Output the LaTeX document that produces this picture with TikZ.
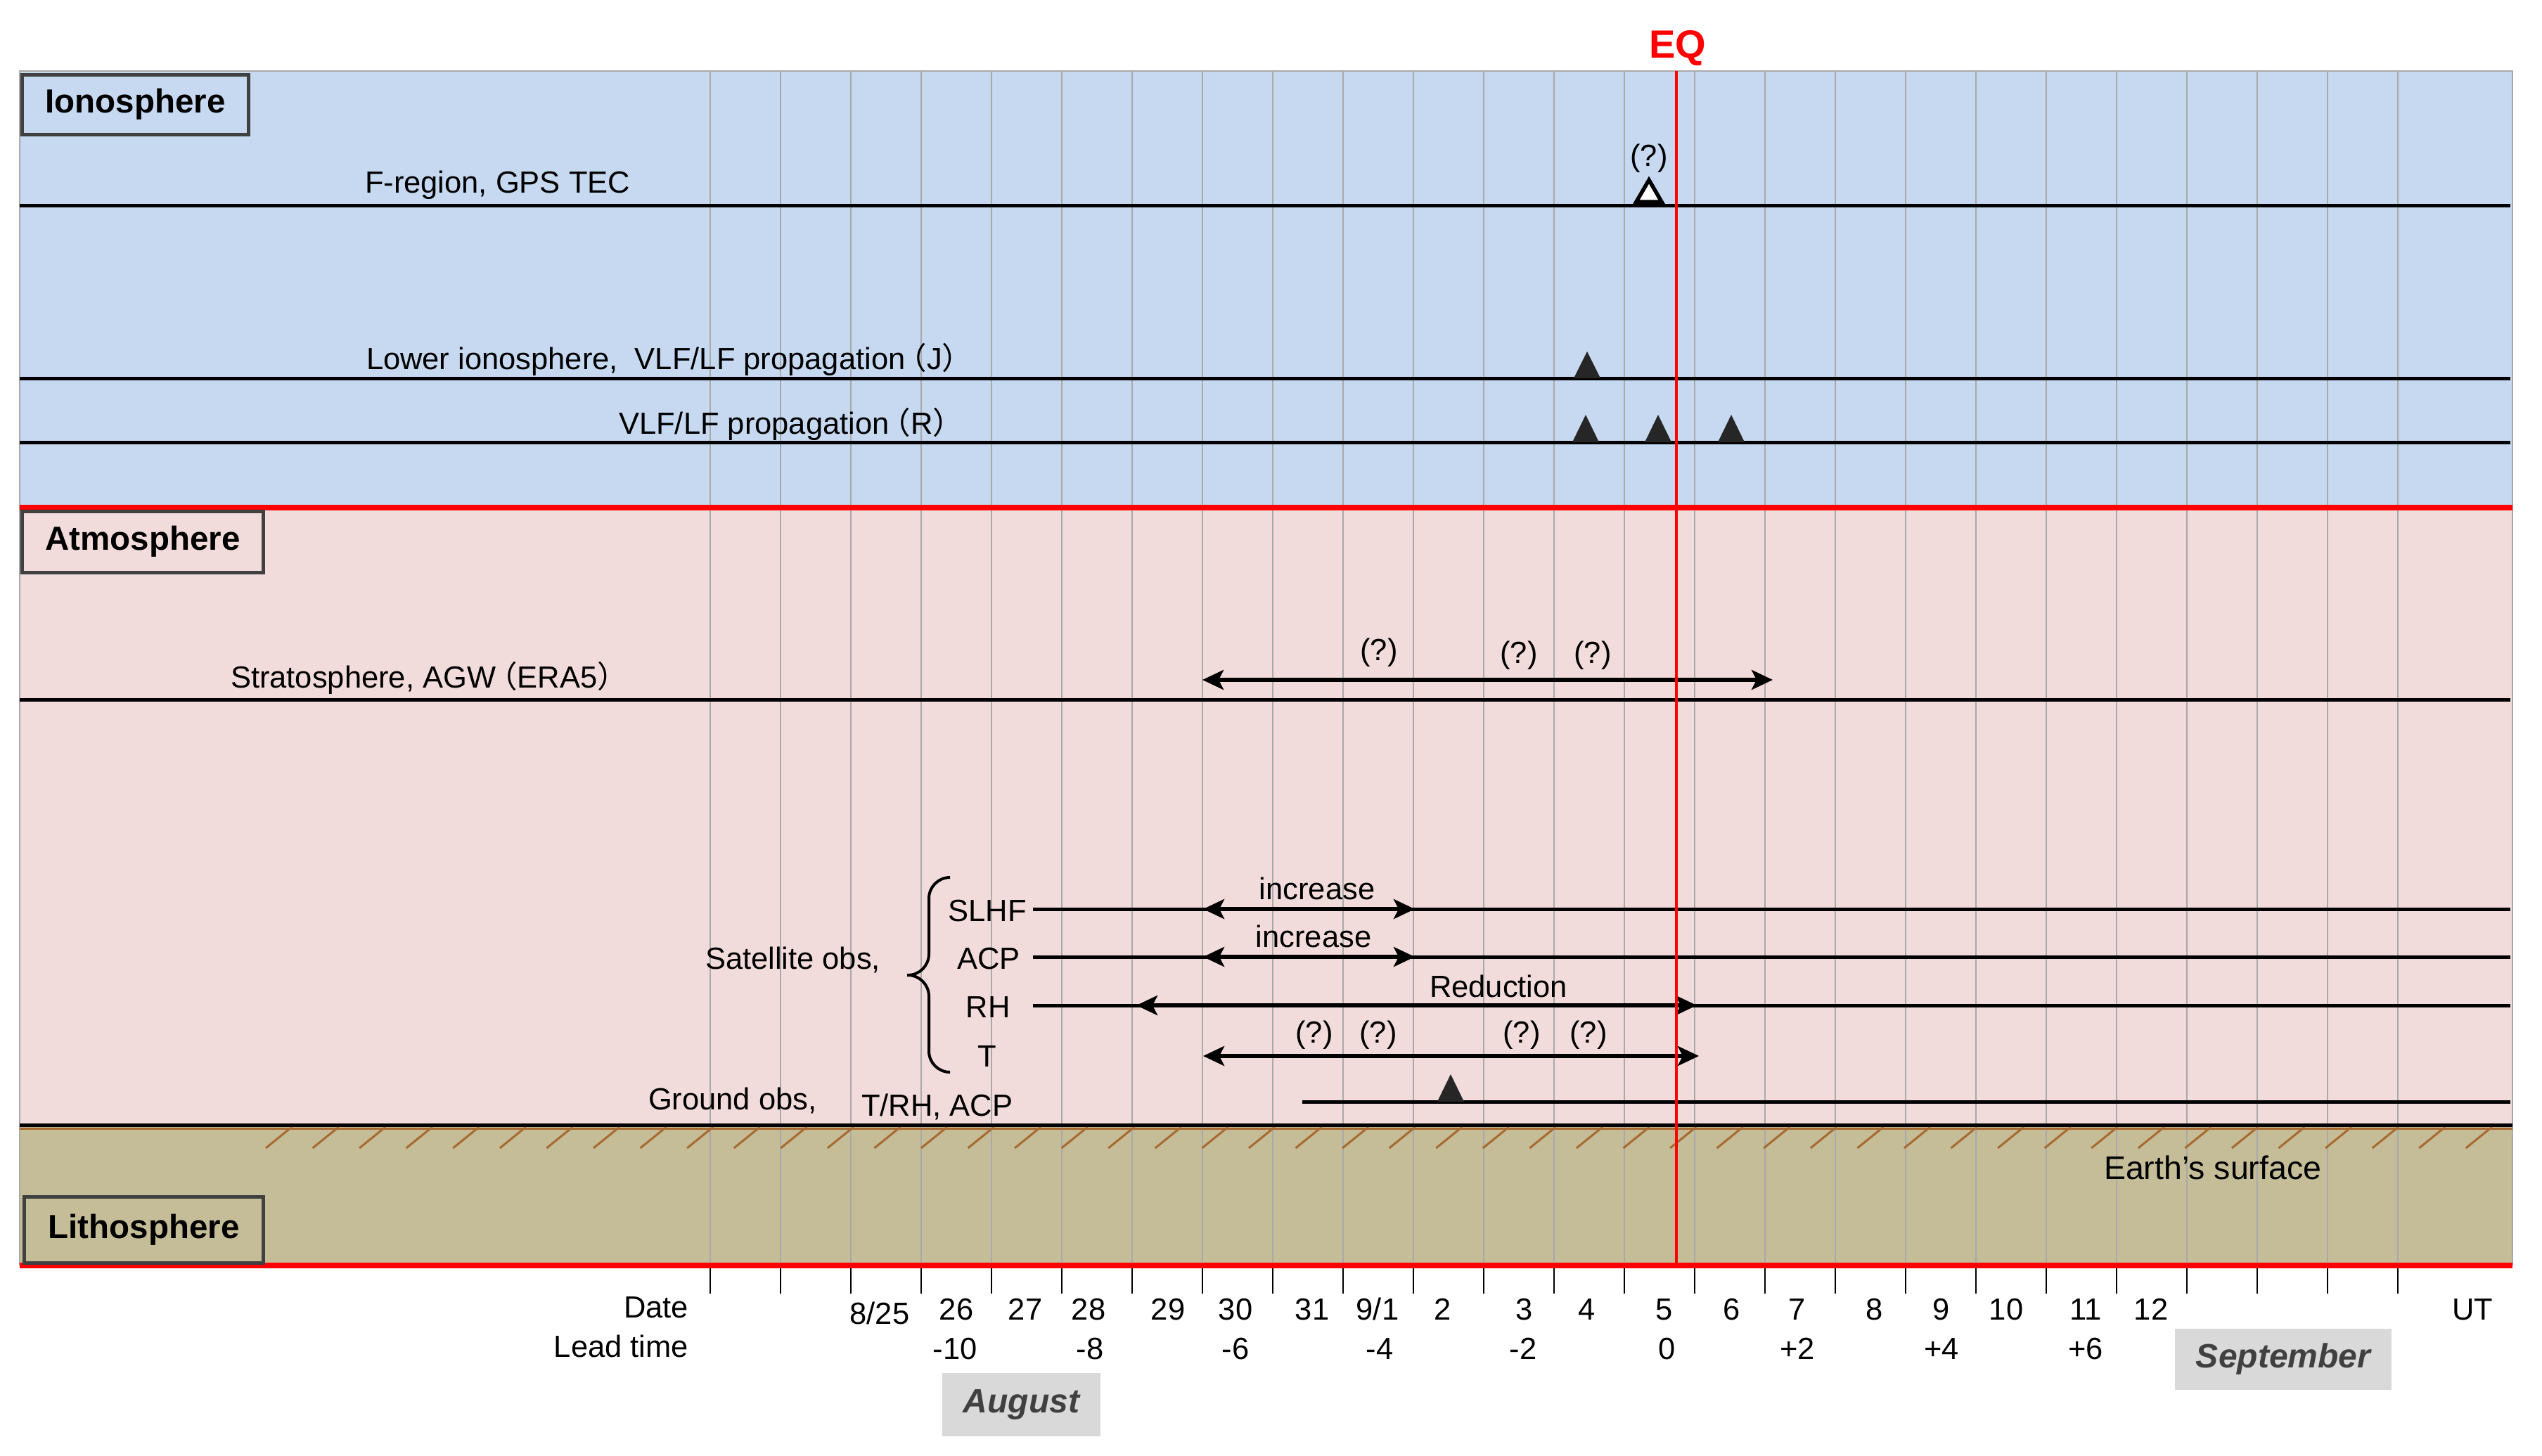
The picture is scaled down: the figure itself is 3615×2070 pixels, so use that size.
\documentclass[tikz,border=0pt]{standalone}
\usepackage{fontspec}
\setmainfont{Liberation Sans}
\newfontfamily\cjkfont{Noto Sans CJK JP}
\usetikzlibrary{arrows.meta}
\definecolor{ionoC}{HTML}{C6D9F1}
\definecolor{atmoC}{HTML}{F2DCDB}
\definecolor{lithoC}{HTML}{C4BD97}
\definecolor{gridC}{HTML}{A9A9A9}
\definecolor{hatchC}{HTML}{A86A30}
\definecolor{boxC}{HTML}{404040}
\definecolor{monthC}{HTML}{D9D9D9}
\definecolor{monthT}{HTML}{404040}
\definecolor{triC}{HTML}{262626}
\newcommand{\fwp}[1]{{\cjkfont\kern-0.3em（}#1{\cjkfont）\kern-0.3em}}
\begin{document}
\begin{tikzpicture}[x=0.2pt,y=-0.2pt,
 every node/.style={inner sep=0pt, outer sep=0pt},
 txt/.style={font=\fontsize{8.7}{10}\selectfont},
 boxlbl/.style={draw=boxC, line width=1pt, font=\bfseries\fontsize{9.5}{11}\selectfont},
 hline/.style={line width=1pt, black},
 redline/.style={line width=1.5pt, red},
 gridline/.style={line width=0.4pt, gridC},
 tickmark/.style={line width=0.5pt, black},
 dblarrow/.style={line width=1.1pt, {Stealth[length=6pt,width=5.6pt,inset=1.4pt]}-{Stealth[length=6pt,width=5.6pt,inset=1.4pt]}},
 peak/.style={fill=triC},
 hatchmark/.style={hatchC, line width=0.6pt},
 month/.style={fill=monthC, font=\bfseries\itshape\fontsize{9.6}{11}\selectfont, text=monthT}
]
\useasboundingbox (0,0) rectangle (3615,2070);
\fill[white] (0,0) rectangle (3615,2070);
% panels
\fill[ionoC] (28,101) rectangle (3573,722);
\fill[atmoC] (28,722) rectangle (3573,1600);
\fill[lithoC] (28,1600) rectangle (3573,1800);
\draw[gridC, line width=0.5pt] (28,1800) -- (28,101) -- (3573,101) -- (3573,1800);
% grid and ticks
\foreach \k in {0,...,24} {
  \draw[gridline] ({1010+100*\k},101) -- ({1010+100*\k},1800);
  \draw[tickmark] ({1010+100*\k},1800) -- ({1010+100*\k},1840);
}
% hatching
\foreach \i in {0,...,47}
  \draw[hatchmark] ({378+66.57*\i},1633) -- ({415+66.57*\i},1603);
\draw[hatchC, line width=0.6pt] (28,1605) -- (3573,1605);
\draw[line width=1pt] (28,1600) -- (3573,1600);
% horizontal lines
\draw[hline] (28,292) -- (3570,292);
\draw[hline] (28,538) -- (3570,538);
\draw[hline] (28,629) -- (3570,629);
\draw[hline] (28,995) -- (3570,995);
\draw[hline] (1469,1293) -- (3570,1293);
\draw[hline] (1469,1361) -- (3570,1361);
\draw[hline] (1469,1430) -- (3570,1430);
\draw[hline] (1852,1567) -- (3570,1567);
% peaks
\fill[peak] (2238,538) -- (2276,538) -- (2257,500) -- cycle;
\foreach \x in {2255,2358,2462}
  \fill[peak] ({\x-19},629) -- ({\x+19},629) -- (\x,590) -- cycle;
\fill[peak] (2044,1567) -- (2082,1567) -- (2063,1528) -- cycle;
\draw[line width=1.1pt, fill=white, line join=miter] (2327,287) -- (2363,287) -- (2345,256) -- cycle;
% arrows
\coordinate (s1) at (1710,967); \coordinate (s2) at (2521,967);
\coordinate (h1) at (1711,1293); \coordinate (h2) at (2012,1293);
\coordinate (a1) at (1711,1361); \coordinate (a2) at (2012,1361);
\coordinate (r1) at (1616,1430); \coordinate (r2) at (2413,1430);
\coordinate (t1) at (1711,1502); \coordinate (t2) at (2416,1502);
\draw[dblarrow] (s1) -- (s2);
\draw[dblarrow] (h1) -- (h2);
\draw[dblarrow] (a1) -- (a2);
\draw[dblarrow] (r1) -- (r2);
\draw[dblarrow] (t1) -- (t2);
% brace
\draw[line width=0.8pt, rounded corners=6pt] (1350,1248) -- (1321,1248) -- (1321,1387) -- (1290,1387);
\draw[line width=0.8pt, rounded corners=6pt] (1290,1387) -- (1321,1387) -- (1321,1525) -- (1350,1525);
% red lines
\draw[redline] (28,722) -- (3573,722);
\draw[redline] (28,1800) -- (3573,1800);
\draw[red, line width=0.9pt] (2384,101) -- (2384,1800);
% layer boxes
\node[boxlbl, fill=ionoC, minimum width=64.2pt, minimum height=17pt] (ionobox) at (192.5,148.5) {Ionosphere};
\node[boxlbl, fill=atmoC, minimum width=68.4pt, minimum height=17.4pt] (atmobox) at (203,770.5) {Atmosphere};
\node[boxlbl, fill=lithoC, minimum width=67.8pt, minimum height=18.8pt] (lithobox) at (204.5,1749) {Lithosphere};
% EQ
\node[font=\bfseries\fontsize{11.2}{13}\selectfont, text=red, anchor=base] (eq) at (2386,82) {EQ};
% ionosphere texts
\node[txt, anchor=base west] (fregion) at (519,274) {F-region, GPS TEC};
\node[txt, anchor=base] (q0) at (2345,236) {(?)};
\node[txt, anchor=base west] (lower) at (521,525) {Lower ionosphere,\ \ VLF/LF propagation\fwp{J}};
\node[txt, anchor=base east] (vlfr) at (1357,617) {VLF/LF propagation\fwp{R}};
% atmosphere texts
\node[txt, anchor=base west] (strat) at (328,978) {Stratosphere, AGW\fwp{ERA5}};
\node[txt, anchor=base] (qs1) at (1961,939) {(?)};
\node[txt, anchor=base] (qs2) at (2160,943) {(?)};
\node[txt, anchor=base] (qs3) at (2265,943) {(?)};
\node[txt, anchor=base west] (satobs) at (1003,1378) {Satellite obs,};
\node[txt, anchor=base] (slhf) at (1404,1310) {SLHF};
\node[txt, anchor=base] (acp) at (1406,1378) {ACP};
\node[txt, anchor=base] (rh) at (1405,1447) {RH};
\node[txt, anchor=base] (tt) at (1404,1517) {T};
\node[txt, anchor=base] (inc1) at (1873,1279) {increase};
\node[txt, anchor=base] (inc2) at (1868,1347) {increase};
\node[txt, anchor=base] (red) at (2131,1418) {Reduction};
\foreach \x in {1869,1960,2164,2259}
  \node[txt, anchor=base] (qt\x) at (\x,1483) {(?)};
\node[txt, anchor=base west] (ground) at (922,1578) {Ground obs,};
\node[txt, anchor=base west] (trh) at (1225,1587) {T/RH, ACP};
\node[font=\fontsize{9.3}{11}\selectfont, anchor=base west] (surface) at (2992,1677) {Earth’s surface};
% axis labels
\node[txt, anchor=base east] (date) at (979,1874) {Date};
\node[txt, anchor=base east] (lead) at (979,1930) {Lead time};
\node[txt, anchor=base] (d825) at (1251,1883) {8/25};
\node[txt, anchor=base] (d91) at (1959,1877) {9/1};
\foreach \x/\t in {1360/26,1458/27,1548/28,1661/29,1757/30,1866/31,2052/2,2168/3,2257/4,2367/5,2463/6,2556/7,2666/8,2761/9,2853/10,2966/11,3059/12}
  \node[txt, anchor=base] (date\t) at (\x,1877) {\t};
\node[txt, anchor=base] (ut) at (3516,1877) {UT};
\foreach \x/\t in {1358/-10,1550/-8,1757/-6,1962/-4,2166/-2,2371/0,2556/+2,2761/+4,2966/+6}
  \node[txt, anchor=base] (lead\x) at (\x,1933) {\t};
% months
\node[month, minimum width=45pt, minimum height=18pt] (aug) at (1452.5,1998) {August};
\node[month, minimum width=61.6pt, minimum height=17.4pt] (sep) at (3247,1933.5) {September};
\end{tikzpicture}
\end{document}
